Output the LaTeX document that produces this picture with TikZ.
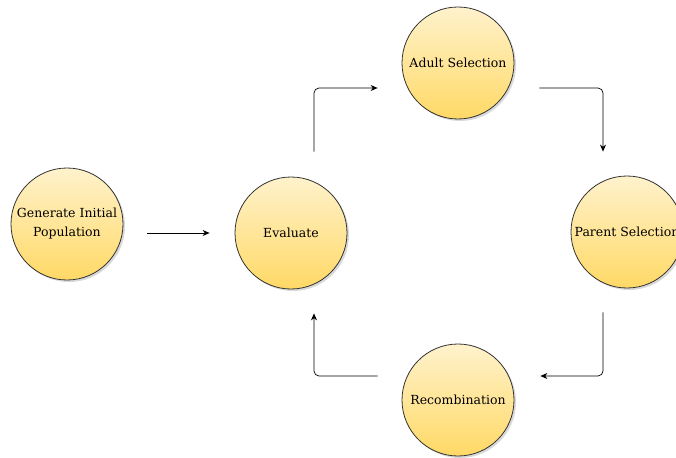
\documentclass[tikz,border=0pt]{standalone}
\usepackage{fontspec}
\setmainfont{DejaVu Serif}
\usetikzlibrary{calc,shadows,arrows.meta}
\definecolor{lightgold}{HTML}{FFF2CC}
\definecolor{gold}{HTML}{FFD966}

\begin{document}
\begin{tikzpicture}[x=1pt,y=-1pt,
        stage/.style={circle, draw=black!80, line width=0.8pt, minimum size=112pt,
            inner sep=0pt, align=center, top color=lightgold, bottom color=gold,
            drop shadow={opacity=0.3, shadow xshift=2pt, shadow yshift=-2pt},
            font=\fontsize{12.5}{19}\selectfont},
        flow/.style={-{Stealth[length=7pt,width=6pt]}, line width=0.7pt, rounded corners=5pt}]
            \useasboundingbox (0,0) rectangle (676,457);

            \node[stage] (init) at (67,224) {Generate Initial\\Population};
            \node[stage] (eval) at (291,233) {Evaluate};
            \node[stage] (adult) at (458,63) {Adult Selection};
            \node[stage] (parent) at (627,232) {Parent Selection};
            \node[stage] (recomb) at (458,400) {Recombination};

            \draw [flow] ($(init.east |- eval.west)+(24,0)$) -- ($(eval.west)+(-25,0)$);
            \draw [flow] ($(eval.north)+(23,-25)$) |- ($(adult.west)+(-24,25)$);
            \draw [flow] ($(adult.east)+(25,25)$) -| ($(parent.north)+(-24,-24)$);
            \draw [flow] ($(parent.south)+(-24,24)$) |- ($(recomb.east)+(26,-24)$);
            \draw [flow] ($(recomb.west)+(-24,-24)$) -| ($(eval.south)+(23,24)$);
        \end{tikzpicture}
\end{document}
